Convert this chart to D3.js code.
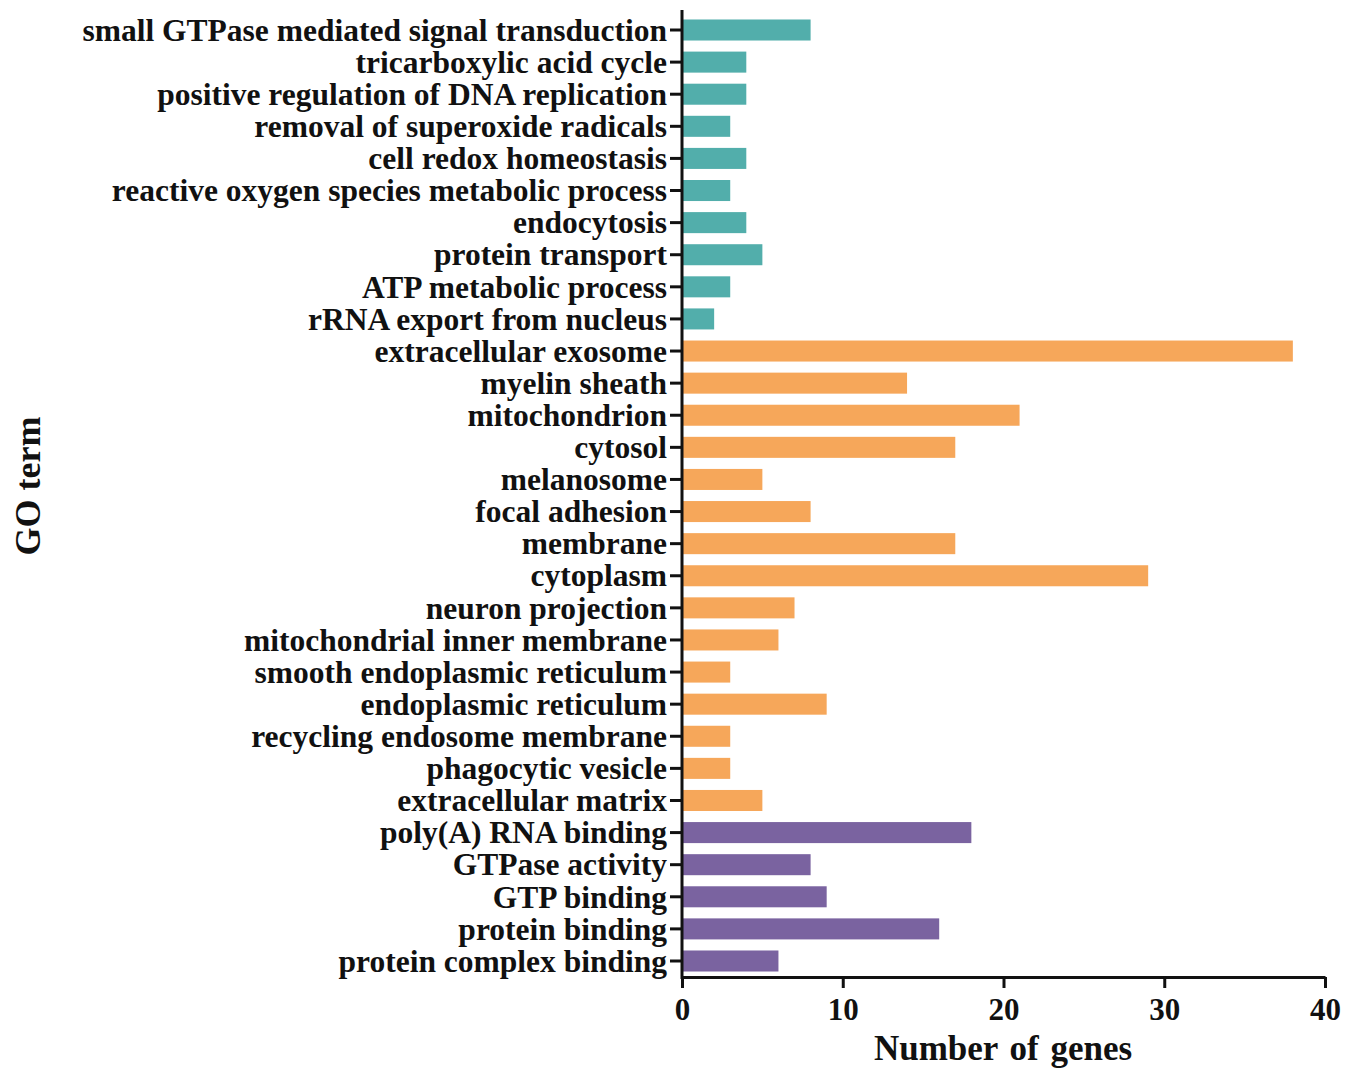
<!DOCTYPE html>
<html><head><meta charset="utf-8">
<script src="https://cdn.jsdelivr.net/npm/d3@7"></script>
<style>body{margin:0;background:#fff}svg{display:block}text{font-family:"Liberation Serif","Times New Roman",serif;font-weight:bold;fill:#111}</style>
</head><body><svg id="c" width="1358" height="1070"></svg>
<script>
const categories = ["small GTPase mediated signal transduction","tricarboxylic acid cycle","positive regulation of DNA replication","removal of superoxide radicals","cell redox homeostasis","reactive oxygen species metabolic process","endocytosis","protein transport","ATP metabolic process","rRNA export from nucleus","extracellular exosome","myelin sheath","mitochondrion","cytosol","melanosome","focal adhesion","membrane","cytoplasm","neuron projection","mitochondrial inner membrane","smooth endoplasmic reticulum","endoplasmic reticulum","recycling endosome membrane","phagocytic vesicle","extracellular matrix","poly(A) RNA binding","GTPase activity","GTP binding","protein binding","protein complex binding"];
const values = [8,4,4,3,4,3,4,5,3,2,38,14,21,17,5,8,17,29,7,6,3,9,3,3,5,18,8,9,16,6];
const groups = ["BP","BP","BP","BP","BP","BP","BP","BP","BP","BP","CC","CC","CC","CC","CC","CC","CC","CC","CC","CC","CC","CC","CC","CC","CC","MF","MF","MF","MF","MF"];
const groupColors = {BP:"#52AEAB", CC:"#F6A75A", MF:"#7A63A0"};
const xTicks = [0,10,20,30,40];

const svg = d3.select("#c");
const x = d3.scaleLinear().domain([0,40]).range([682,1325]);
const y = d3.scaleBand().domain(categories).range([14,977]).paddingInner(0.345).paddingOuter(0.171);

svg.append("g").selectAll("rect").data(categories).join("rect")
  .attr("x", x(0)).attr("y", d=>y(d))
  .attr("width", (d,i)=>x(values[i])-x(0)).attr("height", y.bandwidth())
  .attr("fill", (d,i)=>groupColors[groups[i]]);

// y axis
const ya = svg.append("g").attr("transform","translate(682,0)")
  .call(d3.axisLeft(y).tickSize(12).tickPadding(3));
ya.select(".domain").remove();
ya.selectAll(".tick line").attr("stroke","#111").attr("stroke-width",3);
ya.selectAll(".tick text").attr("font-size",31.5).attr("fill","#111").attr("dy","0.34em")
  .attr("font-family","'Liberation Serif',serif").attr("font-weight","bold");
svg.append("line").attr("x1",682).attr("x2",682).attr("y1",10).attr("y2",979)
  .attr("stroke","#111").attr("stroke-width",3);

// x axis
const xa = svg.append("g").attr("transform","translate(0,977)")
  .call(d3.axisBottom(x).tickValues(xTicks).tickSize(11).tickPadding(10).tickSizeOuter(0));
xa.select(".domain").attr("stroke","#111").attr("stroke-width",3);
xa.selectAll(".tick line").attr("stroke","#111").attr("stroke-width",3);
xa.selectAll(".tick text").attr("font-size",31).attr("fill","#111")
  .attr("font-family","'Liberation Serif',serif").attr("font-weight","bold");

svg.append("text").attr("x",1003).attr("y",1060).attr("text-anchor","middle")
  .attr("font-size",35).attr("word-spacing",3).text("Number of genes");
svg.append("text").attr("transform","translate(40,486) rotate(-90)").attr("text-anchor","middle")
  .attr("font-size",36).text("GO term");
</script></body></html>
